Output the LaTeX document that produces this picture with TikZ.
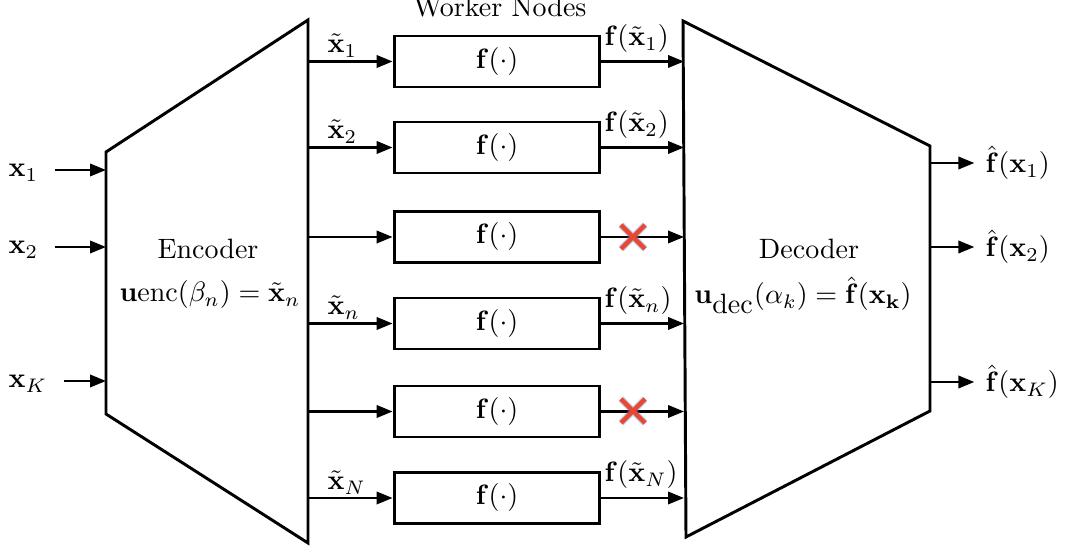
\documentclass[tikz,border=0pt]{standalone}
\usepackage{amsmath}
\usetikzlibrary{arrows.meta}
\definecolor{crossred}{RGB}{232,72,50}
\definecolor{crossblue}{RGB}{120,150,225}
\tikzset{
  txt/.style={inner sep=0pt},
  worker/.style={draw, line width=1.05pt, minimum width=73.5pt, minimum height=18.2pt, inner sep=0pt},
  block/.style={draw, line width=1.05pt, line join=miter},
  arr/.style={line width=0.9pt, -{Triangle[length=5.7pt,width=4.4pt]}},
  xhalo/.style={line width=2.5pt, crossblue, opacity=0.45},
  xred/.style={line width=1.6pt, crossred}
}
\begin{document}
\begin{tikzpicture}[x=0.357pt, y=-0.357pt]
\useasboundingbox (0,0) rectangle (1067,552);
% encoder and decoder
\draw[block] (106,152) -- (308,20) -- (308,543) -- (106,414) -- cycle;
\draw[block] (683,21) -- (930,146) -- (930,411) -- (686,537) -- cycle;
\node[txt, anchor=base] (enc) at (208,259) {Encoder};
\node[txt, anchor=base] (encf) at (210,302) {$\mathbf{u}\mathrm{enc}(\beta_n)=\tilde{\mathbf{x}}_n$};
\node[txt, anchor=base] (dec) at (809,259) {Decoder};
\node[txt, anchor=base] (decf) at (803,304) {$\mathbf{u}_{\textstyle\mathrm{dec}}(\alpha_k)=\hat{\mathbf{f}}(\mathbf{x}_{\mathbf{k}})$};
\node[txt, anchor=base] (title) at (500,17) {Worker Nodes};
% worker rows
\foreach \i/\y in {1/61.5, 2/147.5, 3/237, 4/323.5, 5/411.5, 6/498}{
  \node[worker] (w\i) at (497,\y) {$\mathbf{f}(\cdot)$};
  \coordinate (e\i) at (308,\y);
  \coordinate (d\i) at (684,\y);
  \draw[arr] (e\i) -- (w\i.west);
  \draw[arr] (w\i.east) -- (d\i);
}
% labels on worker arrows
\node[txt, anchor=base west] (l1) at (327,53) {$\tilde{\mathbf{x}}_1$};
\node[txt, anchor=base west] (l2) at (327,139) {$\tilde{\mathbf{x}}_2$};
\node[txt, anchor=base west] (l4) at (327,315) {$\tilde{\mathbf{x}}_n$};
\node[txt, anchor=base west] (l6) at (327,490) {$\tilde{\mathbf{x}}_N$};
\node[txt, anchor=base west] (r1) at (604,46) {$\mathbf{f}(\tilde{\mathbf{x}}_1)$};
\node[txt, anchor=base west] (r2) at (604,132) {$\mathbf{f}(\tilde{\mathbf{x}}_2)$};
\node[txt, anchor=base west] (r4) at (604,308) {$\mathbf{f}(\tilde{\mathbf{x}}_n)$};
\node[txt, anchor=base west] (r6) at (604,482) {$\mathbf{f}(\tilde{\mathbf{x}}_N)$};
% failures
\foreach \c/\y in {c3/237, c5/411}{
  \coordinate (\c) at (633,\y);
  \draw[xhalo] ([shift={(-12,-12)}]\c) -- ([shift={(12,12)}]\c) ([shift={(-12,12)}]\c) -- ([shift={(12,-12)}]\c);
  \draw[xred] ([shift={(-12,-12)}]\c) -- ([shift={(12,12)}]\c) ([shift={(-12,12)}]\c) -- ([shift={(12,-12)}]\c);
}
% inputs
\node[txt, anchor=base west] (in1) at (8,177) {$\mathbf{x}_1$};
\node[txt, anchor=base west] (in2) at (8,254) {$\mathbf{x}_2$};
\node[txt, anchor=base west] (inK) at (8,388) {$\mathbf{x}_K$};
\coordinate (a1) at (106,170);
\coordinate (a2) at (106,247);
\coordinate (aK) at (106,381);
\draw[arr, shorten <=5.7pt] (in1.east |- a1) -- (a1);
\draw[arr, shorten <=5.7pt] (in2.east |- a2) -- (a2);
\draw[arr, shorten <=5.7pt] (inK.east |- aK) -- (aK);
% outputs
\node[txt, anchor=west] (out1) at (985,163) {$\hat{\mathbf{f}}(\mathbf{x}_1)$};
\node[txt, anchor=west] (out2) at (985,247) {$\hat{\mathbf{f}}(\mathbf{x}_2)$};
\node[txt, anchor=west] (outK) at (985,382) {$\hat{\mathbf{f}}(\mathbf{x}_K)$};
\coordinate (b1) at (930,163);
\coordinate (b2) at (930,247);
\coordinate (bK) at (930,382);
\draw[arr, shorten >=3.8pt] (b1) -- (out1.west |- b1);
\draw[arr, shorten >=3.8pt] (b2) -- (out2.west |- b2);
\draw[arr, shorten >=3.8pt] (bK) -- (outK.west |- bK);
\end{tikzpicture}
\end{document}
